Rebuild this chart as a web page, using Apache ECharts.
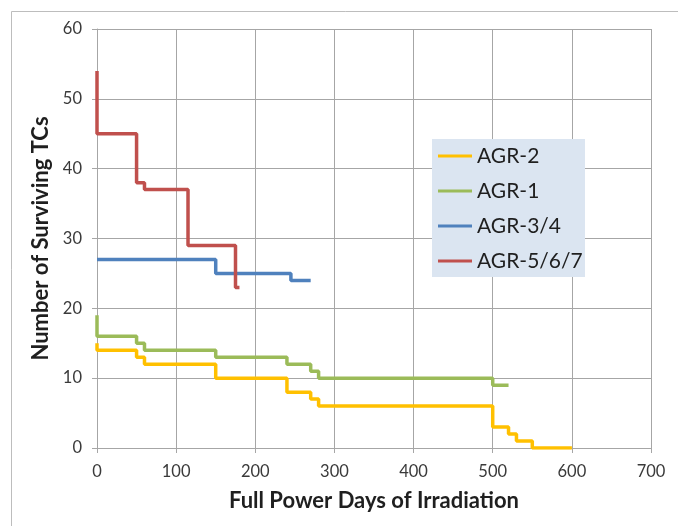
<!DOCTYPE html>
<html><head><meta charset="utf-8">
<script src="https://cdn.jsdelivr.net/npm/echarts@6/dist/echarts.min.js"></script>
<style>html,body{margin:0;padding:0;background:#fff}#c{width:678px;height:526px}</style>
</head><body><div id="c"></div>
<script>
// Data: [Full power days, number of surviving TCs] at each change point
const seriesNames = ['AGR-2', 'AGR-1', 'AGR-3/4', 'AGR-5/6/7'];
const agr2 = [[0,15],[0,14],[50,13],[60,12],[150,10],[240,8],[270,7],[280,6],[500,3],[520,2],[530,1],[550,0],[600,0]];
const agr1 = [[0,19],[0,16],[50,15],[60,14],[150,13],[240,12],[270,11],[280,10],[500,9],[520,9]];
const agr34 = [[0,27],[150,25],[245,24],[270,24]];
const agr567 = [[0,54],[0,45],[50,38],[60,37],[115,29],[175,23],[180,23]];
const colors = ['#ffc000', '#9bbb59', '#4f81bd', '#c0504d'];
const xTicks = [0,100,200,300,400,500,600,700];
const yTicks = [0,10,20,30,40,50,60];

const chart = echarts.init(document.getElementById('c'), null, {renderer:'canvas'});
const allData = [agr2, agr1, agr34, agr567];
const font = 'Lato, "Open Sans", sans-serif';
chart.setOption({
  backgroundColor: '#fff',
  animation: false,
  textStyle: {fontFamily: font},
  graphic: [
    {type:'rect', shape:{x:11.5, y:11.5, width:700, height:600}, style:{fill:'none', stroke:'#bdbdbd', lineWidth:1}, z:-10},
    {type:'rect', shape:{x:432, y:139, width:153, height:138}, style:{fill:'#dbe5f1'}, z:50}
  ],
  grid: {left: 97, right: 27, top: 29, bottom: 78},
  xAxis: {
    type: 'value', min: xTicks[0], max: xTicks[xTicks.length-1], interval: 100,
    name: 'Full Power Days of Irradiation', nameLocation: 'middle', nameGap: 42,
    nameTextStyle: {fontSize: 22, fontWeight: 'bold', color: '#1f1f1f', fontFamily: font},
    axisLine: {lineStyle: {color: '#a6a6a6', width: 1}},
    axisTick: {show: true, length: 5, lineStyle: {color: '#a6a6a6'}},
    axisLabel: {fontSize: 16.5, color: '#3a3a3a', margin: 15, fontFamily: font},
    splitLine: {show: true, lineStyle: {color: '#a6a6a6', width: 1}}
  },
  yAxis: {
    type: 'value', min: yTicks[0], max: yTicks[yTicks.length-1], interval: 10,
    name: 'Number of Surviving TCs', nameLocation: 'middle', nameGap: 41, nameRotate: 90,
    nameTextStyle: {fontSize: 22, fontWeight: 'bold', color: '#1f1f1f', fontFamily: font},
    axisLine: {show: true, lineStyle: {color: '#a6a6a6', width: 1}},
    axisTick: {show: true, length: 5, lineStyle: {color: '#a6a6a6'}},
    axisLabel: {fontSize: 16.5, color: '#3a3a3a', margin: 15, fontFamily: font},
    splitLine: {show: true, lineStyle: {color: '#a6a6a6', width: 1}}
  },
  legend: {
    orient: 'vertical', left: 433, top: 139, z: 60,
    icon: 'rect', itemWidth: 34, itemHeight: 3, itemGap: 11,
    textStyle: {fontSize: 21, color: '#1f1f1f', lineHeight: 24, fontFamily: font},
    data: seriesNames
  },
  series: seriesNames.map((n, i) => ({
    name: n, type: 'line', step: 'end', data: allData[i],
    showSymbol: false, symbol: 'none',
    lineStyle: {color: colors[i], width: 3.5},
    itemStyle: {color: colors[i]}
  }))
});
</script></body></html>
